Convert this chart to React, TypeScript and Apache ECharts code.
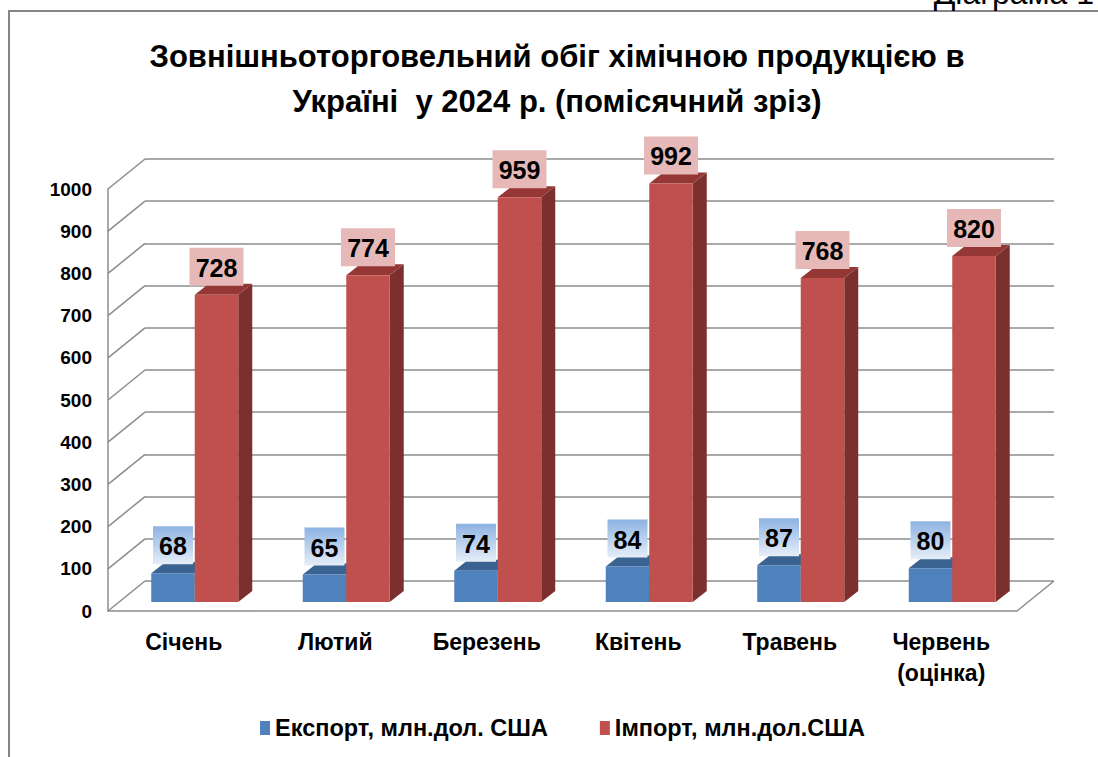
import React, { useEffect, useRef } from 'react';
import * as echarts from 'echarts';

const titleLines = ['Зовнішньоторговельний обіг хімічною продукцією в', 'Україні  у 2024 р. (помісячний зріз)'];
const months = ['Січень', 'Лютий', 'Березень', 'Квітень', 'Травень', 'Червень\n(оцінка)'];
const exportValues = [68, 65, 74, 84, 87, 80];
const importValues = [728, 774, 959, 992, 768, 820];
const yTicks = [0, 100, 200, 300, 400, 500, 600, 700, 800, 900, 1000];
const seriesNames = ['Експорт, млн.дол. США', 'Імпорт, млн.дол.США'];
const cornerNote = 'Діаграма 1';

const FONT = "'Liberation Sans', Arial, Helvetica, sans-serif";
const GRID_COLOR = '#8c8c8c';
const FRONT = { left: 108, top: 189, width: 909, height: 422 };
const WALL = [37, -30];
const BAR_SHIFT = [11, -9];
const BAR_DEPTH = [14, -11];
const BAR_W = 43.5;

const BLUE = { front: '#4F81BD', top: '#3A6391', side: '#2F5078', label: 'grad' };
const RED = { front: '#C0504D', top: '#953735', side: '#7B302E', label: '#E6B9B8' };

function makeBarRenderer(leftSide: boolean, colors: any) {
  return (params: any, api: any) => {
    const idx = api.value(0);
    const val = api.value(1);
    const base = api.coord([idx, 0]);
    const top = api.coord([idx, val]);
    const x0 = leftSide ? base[0] - BAR_W : base[0];
    const x1 = x0 + BAR_W;
    const yb = base[1];
    const yt = top[1];
    const dx = BAR_DEPTH[0];
    const dy = BAR_DEPTH[1];
    const label = String(val);
    const bw = label.length * 14 + 12;
    const bh = 38;
    const cx = (x0 + x1) / 2;
    const by = yt - 9 - bh;
    const labelFill =
      colors.label === 'grad'
        ? new echarts.graphic.LinearGradient(0, 0, 0, 1, [
            { offset: 0, color: '#8DB3E2' },
            { offset: 1, color: '#E6EEF8' },
          ])
        : colors.label;
    return {
      type: 'group',
      children: [
        {
          type: 'polygon',
          shape: { points: [[x1, yb], [x1, yt], [x1 + dx, yt + dy], [x1 + dx, yb + dy]] },
          style: { fill: colors.side },
        },
        {
          type: 'polygon',
          shape: { points: [[x0, yt], [x1, yt], [x1 + dx, yt + dy], [x0 + dx, yt + dy]] },
          style: { fill: colors.top },
        },
        {
          type: 'rect',
          shape: { x: x0, y: yt, width: BAR_W, height: yb - yt },
          style: { fill: colors.front },
        },
        {
          type: 'rect',
          shape: { x: cx - bw / 2, y: by, width: bw, height: bh },
          style: { fill: labelFill },
        },
        {
          type: 'text',
          style: {
            text: label,
            x: cx,
            y: by + bh / 2 + 1,
            align: 'center',
            verticalAlign: 'middle',
            font: `bold 25px ${FONT}`,
            fill: '#000',
          },
        },
      ],
    };
  };
}

function wallRenderer(params: any, api: any) {
  const cs = params.coordSys;
  const v = api.value(1);
  const y = api.coord([0, v])[1];
  const children: any[] = [
    {
      type: 'line',
      shape: { x1: cs.x, y1: y, x2: cs.x + WALL[0], y2: y + WALL[1] },
      style: { stroke: GRID_COLOR, lineWidth: 1.5 },
    },
  ];
  if (v === yTicks[0]) {
    children.push({
      type: 'line',
      shape: { x1: cs.x + cs.width, y1: y, x2: cs.x + cs.width + WALL[0], y2: y + WALL[1] },
      style: { stroke: GRID_COLOR, lineWidth: 1.5 },
    });
  }
  return { type: 'group', children };
}

export default function App() {
  const ref = useRef<HTMLDivElement>(null);
  useEffect(() => {
    if (!ref.current) return;
    const chart = echarts.init(ref.current, null, { renderer: 'svg' });
    const yMin = yTicks[0];
    const yMax = yTicks[yTicks.length - 1];
    const yStep = yTicks[1] - yTicks[0];
    const mkGrid = (sx: number, sy: number) => ({
      left: FRONT.left + sx,
      top: FRONT.top + sy,
      width: FRONT.width,
      height: FRONT.height,
    });
    const option: any = {
      animation: false,
      backgroundColor: '#ffffff',
      title: {
        text: titleLines.join('\n'),
        left: 557,
        top: 34,
        padding: 0,
        textAlign: 'center',
        textStyle: {
          fontFamily: FONT,
          fontSize: 31,
          fontWeight: 'bold',
          lineHeight: 45,
          color: '#000',
        },
      },
      legend: {
        data: seriesNames,
        left: 255,
        top: 711,
        icon: 'rect',
        itemWidth: 10,
        itemHeight: 14,
        itemGap: 52,
        textStyle: { fontFamily: FONT, fontSize: 23.5, fontWeight: 'bold', color: '#000' },
      },
      grid: [mkGrid(0, 0), mkGrid(WALL[0], WALL[1]), mkGrid(BAR_SHIFT[0], BAR_SHIFT[1])],
      xAxis: [
        {
          gridIndex: 0,
          type: 'category',
          data: months,
          axisLine: { show: true, lineStyle: { color: GRID_COLOR, width: 1.5 } },
          axisTick: { show: false },
          axisLabel: {
            margin: 15,
            fontFamily: FONT,
            fontSize: 23,
            fontWeight: 'bold',
            color: '#000',
            lineHeight: 31,
            interval: 0,
          },
        },
        { gridIndex: 1, type: 'category', data: months, show: false },
        { gridIndex: 2, type: 'category', data: months, show: false },
      ],
      yAxis: [
        {
          gridIndex: 0,
          type: 'value',
          min: yMin,
          max: yMax,
          interval: yStep,
          axisLine: { show: true, lineStyle: { color: GRID_COLOR, width: 1.5 } },
          axisTick: { show: false },
          splitLine: { show: false },
          axisLabel: {
            margin: 16,
            fontFamily: FONT,
            fontSize: 19,
            fontWeight: 'bold',
            color: '#000',
            formatter: (v: number) => String(v),
          },
        },
        {
          gridIndex: 1,
          type: 'value',
          min: yMin,
          max: yMax,
          interval: yStep,
          axisLine: { show: false },
          axisTick: { show: false },
          axisLabel: { show: false },
          splitLine: { show: true, lineStyle: { color: GRID_COLOR, width: 1.5 } },
        },
        {
          gridIndex: 2,
          type: 'value',
          min: yMin,
          max: yMax,
          interval: yStep,
          show: false,
          splitLine: { show: false },
        },
      ],
      series: [
        {
          type: 'custom',
          name: 'wall',
          xAxisIndex: 0,
          yAxisIndex: 0,
          data: yTicks.map((v) => [0, v]),
          renderItem: wallRenderer,
          silent: true,
          z: 1,
        },
        {
          type: 'custom',
          name: seriesNames[0],
          xAxisIndex: 2,
          yAxisIndex: 2,
          itemStyle: { color: BLUE.front },
          data: exportValues.map((v, i) => [i, v]),
          encode: { x: 0, y: 1 },
          renderItem: makeBarRenderer(true, BLUE),
          z: 3,
        },
        {
          type: 'custom',
          name: seriesNames[1],
          xAxisIndex: 2,
          yAxisIndex: 2,
          itemStyle: { color: RED.front },
          data: importValues.map((v, i) => [i, v]),
          encode: { x: 0, y: 1 },
          renderItem: makeBarRenderer(false, RED),
          z: 4,
        },
      ],
      graphic: [
        {
          type: 'polyline',
          shape: { points: [[9, 757], [9, 11], [1098, 11]] },
          style: { stroke: '#858585', lineWidth: 2, fill: null },
          silent: true,
        },
        {
          type: 'text',
          x: 1094,
          y: 9,
          style: {
            text: cornerNote,
            align: 'right',
            verticalAlign: 'bottom',
            font: `32px ${FONT}`,
            fill: '#000',
          },
          silent: true,
        },
      ],
    };
    chart.setOption(option);
    return () => chart.dispose();
  }, []);
  return (
    <div
      ref={ref}
      style={{ position: 'fixed', left: 0, top: 0, width: 1098, height: 757, background: '#fff' }}
    />
  );
}
